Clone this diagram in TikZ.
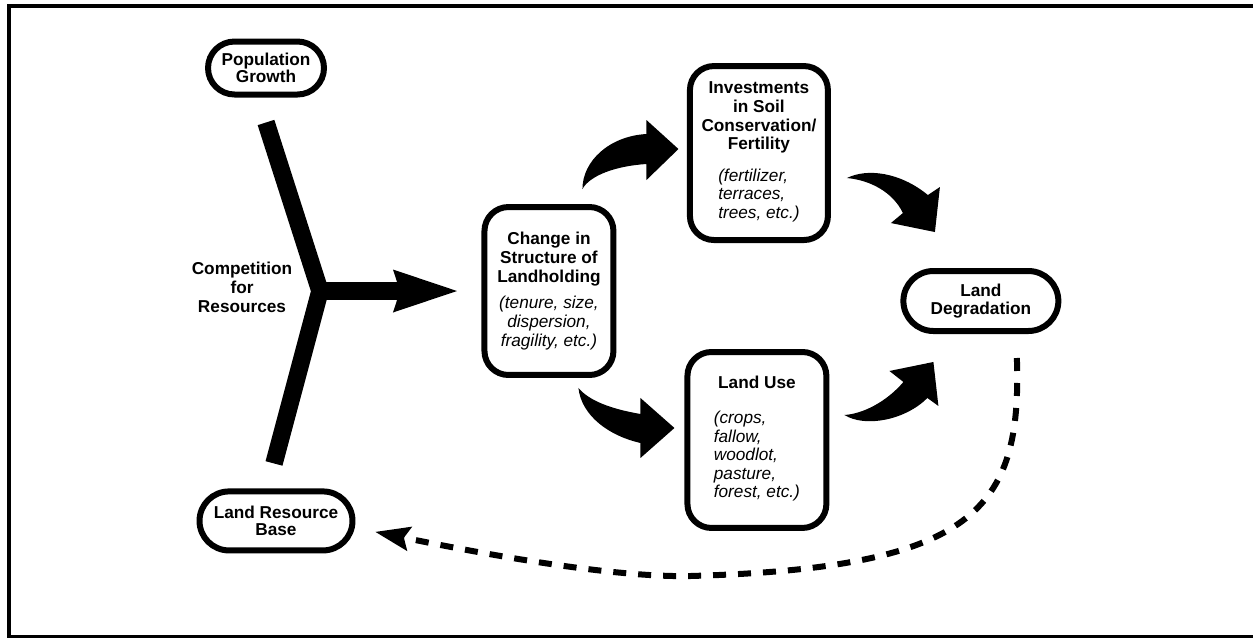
\documentclass[tikz,border=0pt]{standalone}
\usepackage{fontspec}
\setmainfont{Liberation Sans}
\usetikzlibrary{arrows.meta}
\tikzset{
	stadium/.style={draw, line width=0.12cm, inner sep=0pt, align=center, font=\bfseries\fontsize{9.8}{10}\selectfont},
	landbox/.style={draw, line width=0.12cm, rounded corners=0.48cm, inner sep=0pt, align=center, font=\fontsize{9.8}{10.6}\selectfont},
	plainlabel/.style={align=center, inner sep=0pt, font=\bfseries\fontsize{9.8}{10.8}\selectfont},
	forkbar/.style={line width=0.35cm, line join=miter},
	curvarrow/.style={fill=black},
	dashlink/.style={line width=0.12cm, dash pattern=on 0.26cm off 0.24cm, -{Stealth[length=0.7cm, width=0.5cm, inset=0.12cm, line width=0pt]}}
}
\newcommand{\egs}[1]{\begin{tabular}[t]{@{}l@{}}#1\end{tabular}}

\begin{document}
\begin{tikzpicture}[x=0.02cm, y=-0.02cm]
	\useasboundingbox (0,0) rectangle (1253,637);
	\draw [line width=0.08cm] (1253,6) -- (9,6) -- (9,636.5) -- (1253,636.5);

	\coordinate (fork) at (320,291);
	\node[stadium, minimum width=2.32cm, minimum height=1.06cm, rounded corners=0.53cm] (pop) at (266,68) {Population\\Growth};
	\node[stadium, minimum width=3.06cm, minimum height=1.18cm, rounded corners=0.59cm, below of=pop, node distance=9.06cm, xshift=0.2cm] (lrb) {Land Resource\\Base};
	\node[plainlabel, left of=fork, node distance=1.56cm, yshift=0.08cm] (comp) {Competition\\for\\Resources};

	\node[landbox, minimum width=2.58cm, minimum height=3.36cm, right of=fork, node distance=4.58cm] (change) {\textbf{Change in}\\\textbf{Structure of}\\\textbf{Landholding}\\[0.16cm]\textit{(tenure, size,}\\\textit{dispersion,}\\\textit{fragility, etc.)}};
	\node[landbox, minimum width=2.76cm, minimum height=3.48cm, right of=change, node distance=4.2cm, yshift=2.76cm] (invest) {\textbf{Investments}\\\textbf{in Soil}\\\textbf{Conservation/}\\\textbf{Fertility}\\[0.26cm]\egs{\textit{(fertilizer,}\\\textit{terraces,}\\\textit{trees, etc.)}}};
	\node[landbox, minimum width=2.78cm, minimum height=3.52cm, below of=invest, node distance=5.74cm, xshift=-0.04cm] (landuse) {\textbf{Land Use}\\[0.32cm]\egs{\textit{(crops,}\\\textit{fallow,}\\\textit{woodlot,}\\\textit{pasture,}\\\textit{forest, etc.)}}};
	\node[stadium, minimum width=3.1cm, minimum height=1.2cm, rounded corners=0.6cm, right of=change, node distance=8.64cm, yshift=-0.2cm] (degr) {Land\\Degradation};

	\draw [forkbar] ([yshift=-0.5cm] pop.south) -- (fork) -- ([xshift=-0.04cm, yshift=0.5cm] lrb.north);
	\draw [forkbar, -{Stealth[length=1.28cm, width=0.86cm, inset=0.14cm, line width=0pt]}, shorten >=0.49cm] (fork) -- (change.west);

	\fill [curvarrow, shift={(change.north east)}] (-34,-15) .. controls (-34,-43) and (-7,-68) .. (30,-70) -- (30,-84) -- (62,-55) -- (30,-24) -- (30,-40) .. controls (-2,-38) and (-27,-28) .. (-34,-15) -- cycle;
	\fill [curvarrow, shift={(invest.east)}] (16,25) .. controls (36,15) and (69,19) .. (97,42) -- (109,34) -- (104,79) -- (60,70) -- (72,60) .. controls (62,39) and (39,27) .. (16,25) -- cycle;
	\fill [curvarrow, shift={(change.south east)}] (-38,10) .. controls (-35,38) and (-7,58) .. (24,65) -- (24,80) -- (58,50) -- (24,20) -- (24,36) .. controls (-5,31) and (-27,23) .. (-38,10) -- cycle;
	\fill [curvarrow, shift={(landuse.east)}] (15,-25) .. controls (33,-26) and (57,-38) .. (74,-58) -- (60,-69) -- (104,-78) -- (109,-34) -- (98,-42) .. controls (76,-20) and (36,-12) .. (15,-25) -- cycle;

	\coordinate (dip) at (690,576);
	\draw [dashlink] ([xshift=0.72cm, yshift=-0.48cm] degr.south) .. controls (1022,510) and (975,568) .. (dip) .. controls (600,578) and (440,545) .. ([xshift=0.4cm, yshift=-0.22cm] lrb.east);
\end{tikzpicture}
\end{document}
